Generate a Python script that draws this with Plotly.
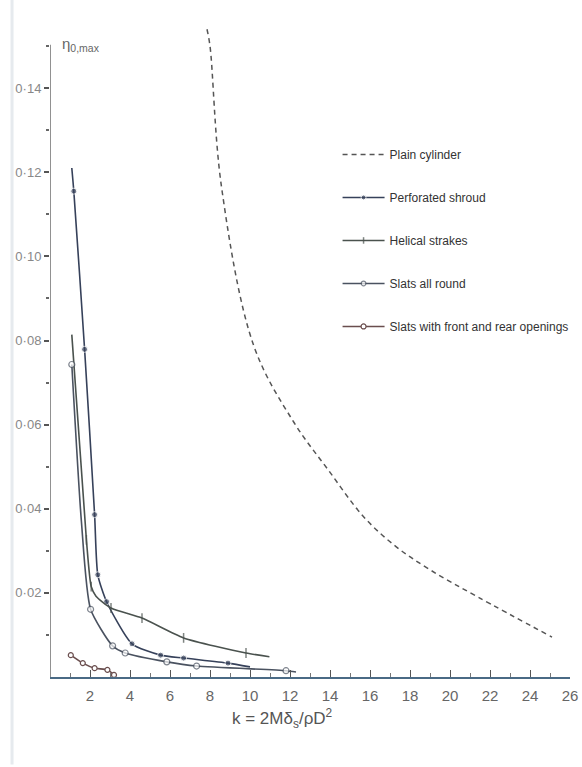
import plotly.graph_objects as go

# ---- data ----
plain_k = [7.85, 8.0, 8.57, 10.2, 12.2, 13.9, 15.7, 17.3, 19.0, 21.4, 25.1]
plain_eta = [0.154, 0.150, 0.1167, 0.0786, 0.0605, 0.0493, 0.038, 0.031, 0.0255, 0.019, 0.0095]

perf_k = [1.09, 1.19, 1.73, 2.23, 2.39, 2.83, 4.1, 5.53, 6.68, 8.9, 10.0]
perf_eta = [0.121, 0.1155, 0.0779, 0.0386, 0.0243, 0.0179, 0.0079, 0.0052, 0.0045, 0.0033, 0.0024]

helical_k = [1.09, 1.82, 2.06, 2.3, 3.05, 4.6, 6.68, 9.8, 10.97]
helical_eta = [0.0814, 0.0326, 0.0215, 0.0192, 0.0164, 0.0140, 0.0093, 0.0057, 0.0048]

slats_k = [1.09, 1.57, 2.03, 3.13, 3.76, 5.84, 7.33, 11.8, 12.3]
slats_eta = [0.0743, 0.037, 0.0161, 0.0074, 0.0057, 0.0036, 0.0026, 0.0015, 0.0012]

open_k = [1.04, 1.64, 2.23, 2.87, 3.2]
open_eta = [0.0052, 0.0033, 0.0021, 0.0017, 0.0005]

y_major = [0.02, 0.04, 0.06, 0.08, 0.10, 0.12, 0.14]
y_labels = ["0·02", "0·04", "0·06", "0·08", "0·10", "0·12", "0·14"]
x_major = [2, 4, 6, 8, 10, 12, 14, 16, 18, 20, 22, 24, 26]

names = ["Plain cylinder", "Perforated shroud", "Helical strakes",
         "Slats all round", "Slats with front and rear openings"]

FONT = "Liberation Sans Narrow, Liberation Sans, Arial, sans-serif"

fig = go.Figure()

fig.add_trace(go.Scatter(
    x=plain_k, y=plain_eta, mode="lines", name=names[0], legendgroup="a",
    line=dict(color="#555555", width=1.5, dash="5px,4px", shape="spline", smoothing=1.0)))

fig.add_trace(go.Scatter(
    x=perf_k, y=perf_eta, mode="lines+markers", name=names[1], legendgroup="b",
    line=dict(color="#36415a", width=1.6, shape="spline", smoothing=0.6),
    marker=dict(symbol="circle", size=[0] + [6] * (len(perf_k) - 2) + [0], color="#36415a")))

fig.add_trace(go.Scatter(
    x=helical_k, y=helical_eta, mode="lines+markers", name=names[2], legendgroup="c",
    line=dict(color="#4a524e", width=1.6, shape="spline", smoothing=0.6),
    marker=dict(symbol="line-ns", size=[0, 7, 7, 0, 7, 7, 7, 7, 0],
                line=dict(color="#4a524e", width=1.5))))

fig.add_trace(go.Scatter(
    x=slats_k, y=slats_eta, mode="lines+markers", name=names[3], legendgroup="d",
    line=dict(color="#4a5260", width=1.6, shape="spline", smoothing=0.6),
    marker=dict(symbol="circle", size=[6, 0, 6, 6, 6, 6, 6, 6, 0], color="white",
                line=dict(color="#4a5260", width=1.2))))

fig.add_trace(go.Scatter(
    x=open_k, y=open_eta, mode="lines+markers", name=names[4], legendgroup="e",
    line=dict(color="#6a4e4e", width=1.6, shape="spline", smoothing=0.6),
    marker=dict(symbol="circle", size=5, color="white",
                line=dict(color="#6a4e4e", width=1.2))))

# y axis line (drawn only up to 0.15)
fig.add_shape(type="line", xref="x", yref="y", x0=0, x1=0, y0=0, y1=0.1503,
              line=dict(color="#555555", width=1.3))
# scanner edge band
fig.add_shape(type="line", xref="paper", yref="paper", x0=-0.073, x1=-0.073, y0=-0.13, y1=1.01,
              line=dict(color="#e6eaee", width=3), layer="below")

fig.add_annotation(x=0.5, y=0.1504, xref="x", yref="y", showarrow=False,
                   text="η<sub>0,max</sub>", xanchor="left", yanchor="middle",
                   font=dict(family=FONT, size=15, color="#666666"))
fig.add_annotation(x=9.0, y=-0.0614, xref="x", yref="paper", showarrow=False,
                   text="k = 2Mδ<sub>s</sub>/ρD<sup>2</sup>", xanchor="left", yanchor="middle",
                   font=dict(family=FONT, size=17, color="#555555"))

fig.update_layout(
    width=582, height=767,
    margin=dict(l=50, r=10, t=4, b=90),
    paper_bgcolor="white", plot_bgcolor="white",
    showlegend=True,
    legend=dict(x=0.553, y=0.798, xanchor="left", yanchor="top",
                font=dict(family=FONT, size=12, color="#333333"),
                itemwidth=42, tracegroupgap=24, bgcolor="rgba(0,0,0,0)"),
    xaxis=dict(range=[0, 26.0], showgrid=False, zeroline=False,
               showline=True, linecolor="#4a6a85", linewidth=1.5,
               tickmode="array", tickvals=x_major, ticktext=[str(v) for v in x_major],
               ticks="inside", ticklen=7, tickcolor="#555555", tickwidth=1,
               minor=dict(tickmode="array", tickvals=list(range(1, 26, 2)),
                         ticks="inside", ticklen=4, tickcolor="#777777"),
               ticklabelstandoff=4,
               tickfont=dict(family=FONT, size=15, color="#666666")),
    yaxis=dict(range=[0, 0.16], showgrid=False, zeroline=False, showline=False,
               tickmode="array", tickvals=y_major, ticktext=y_labels,
               ticks="outside", ticklen=5, tickcolor="#555555", tickwidth=1.5,
               minor=dict(tickmode="array", tickvals=[0.01, 0.03, 0.05, 0.07, 0.09, 0.11, 0.13, 0.15],
                          ticks="outside", ticklen=3, tickcolor="#666666"),
               ticklabelstandoff=0,
               tickfont=dict(family=FONT, size=13, color="#888888")),
)

fig.write_html("out.html", config={"displayModeBar": False},
               post_script="document.body.style.margin='0';")
